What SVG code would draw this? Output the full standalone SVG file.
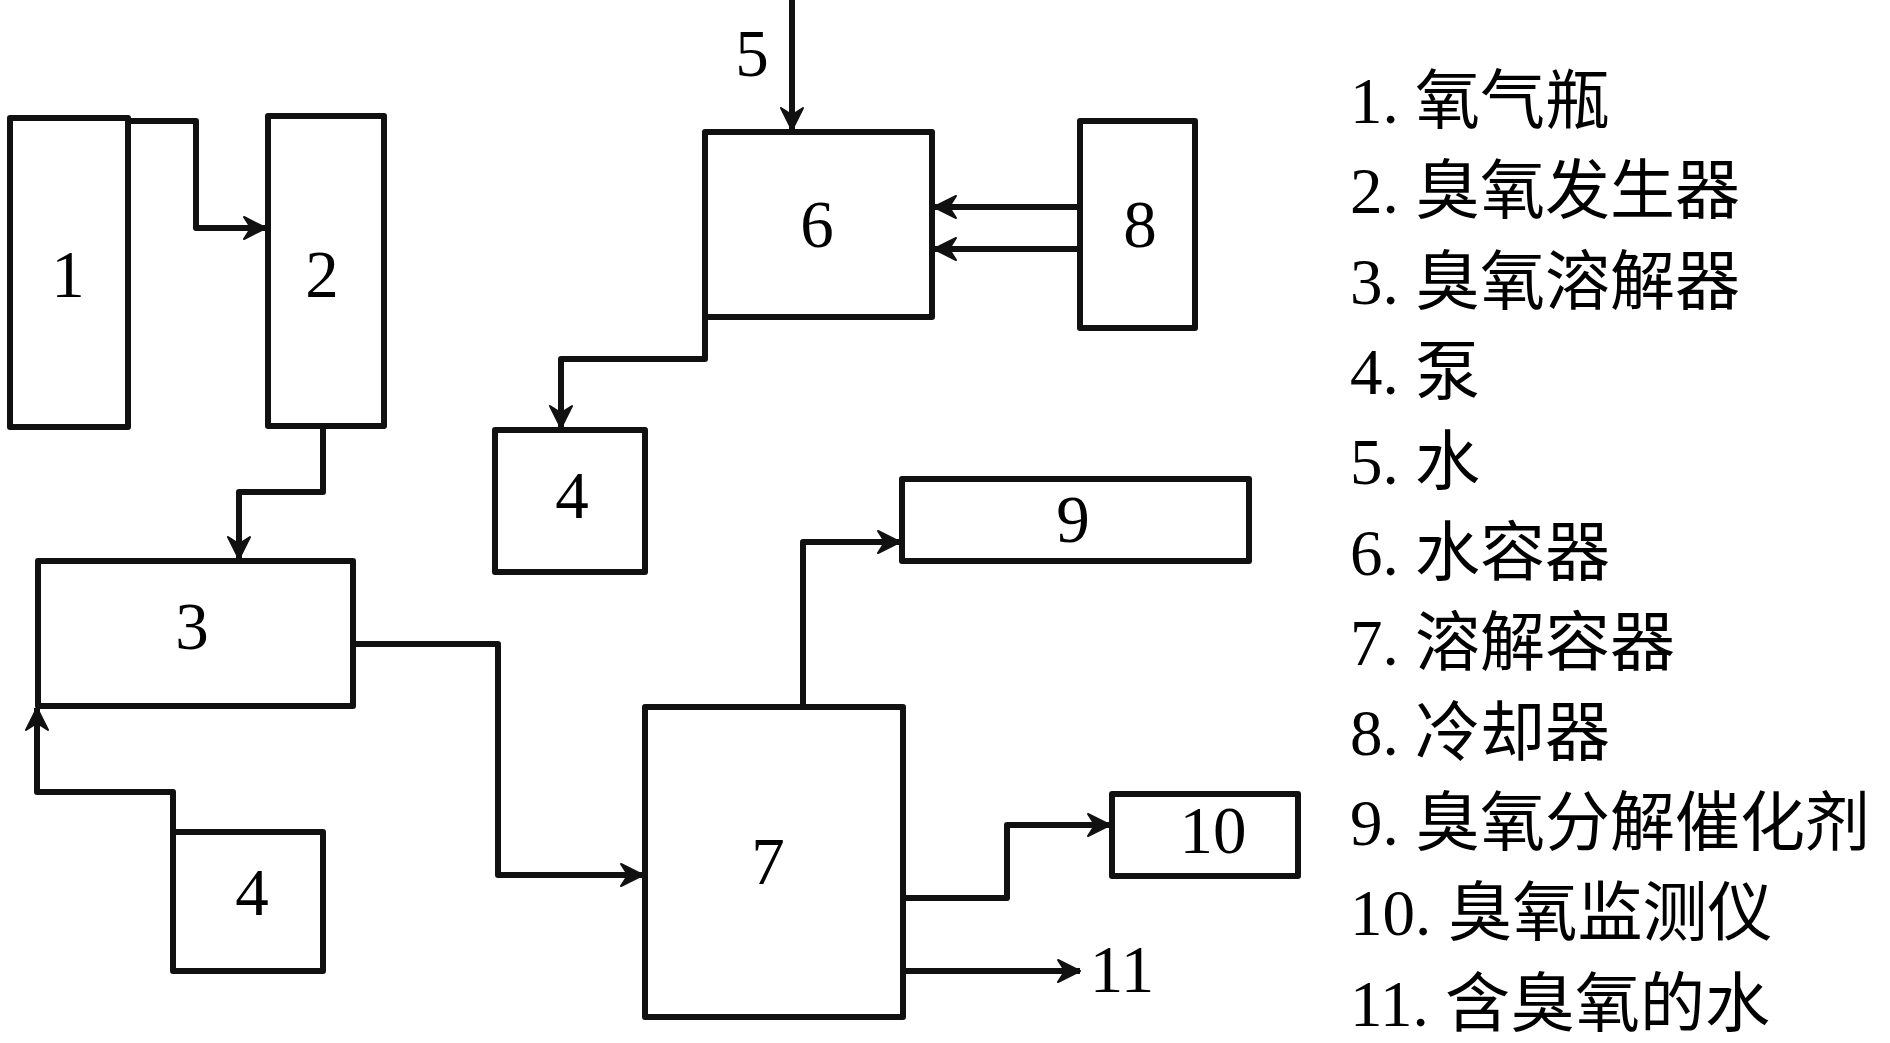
<svg xmlns="http://www.w3.org/2000/svg" width="1890" height="1043" viewBox="0 0 1890 1043">
<style>
.box{fill:#fff;stroke:#111;stroke-width:6;stroke-linejoin:round}
.wire{fill:none;stroke:#111;stroke-width:6;stroke-linejoin:round}
.num{font-family:"Liberation Serif","Times New Roman",serif;font-size:67px;fill:#000;text-anchor:middle}
.leg{font-family:"Liberation Serif","Noto Sans CJK SC",serif;font-size:65px;fill:#000}
.cjk{font-family:"Noto Sans CJK SC","Liberation Serif",sans-serif;font-size:65px}
</style>
<defs>
<marker id="arr" markerUnits="userSpaceOnUse" markerWidth="28" markerHeight="28" viewBox="0 0 28 28" refX="26" refY="14" orient="auto">
<path d="M4,3 L26,14 L4,25 L11,14 Z" fill="#111" stroke="#111" stroke-width="2" stroke-linejoin="round"/>
</marker>
</defs>
<rect width="1890" height="1043" fill="#fff"/>

<g id="connectors">
<path class="wire" d="M128,121 H196 V228 H266" marker-end="url(#arr)"/>
<path class="wire" d="M323,426 V492 H239 V559" marker-end="url(#arr)"/>
<path class="wire" d="M173,832 V792 H37 V708" marker-end="url(#arr)"/>
<path class="wire" d="M353,644 H498 V875 H643" marker-end="url(#arr)"/>
<path class="wire" d="M792,0 V130" marker-end="url(#arr)"/>
<path class="wire" d="M1080,207 H934" marker-end="url(#arr)"/>
<path class="wire" d="M1080,249 H934" marker-end="url(#arr)"/>
<path class="wire" d="M705,317 V359 H561 V428" marker-end="url(#arr)"/>
<path class="wire" d="M803,707 V542 H900" marker-end="url(#arr)"/>
<path class="wire" d="M903,898 H1007 V825 H1110" marker-end="url(#arr)"/>
<path class="wire" d="M903,971 H1080" marker-end="url(#arr)"/>
</g>

<g id="node1"><rect class="box" x="10" y="118" width="118" height="309"/><text class="num" x="68" y="297">1</text></g>
<g id="node2"><rect class="box" x="268" y="116" width="116" height="310"/><text class="num" x="322" y="297">2</text></g>
<g id="node3"><rect class="box" x="38" y="561" width="315" height="145"/><text class="num" x="192" y="649">3</text></g>
<g id="node4a"><rect class="box" x="173" y="832" width="150" height="139"/><text class="num" x="252" y="915">4</text></g>
<g id="node4b"><rect class="box" x="495" y="430" width="150" height="142"/><text class="num" x="572" y="518">4</text></g>
<g id="node5"><text class="num" x="752" y="76">5</text></g>
<g id="node6"><rect class="box" x="705" y="132" width="227" height="185"/><text class="num" x="817" y="247">6</text></g>
<g id="node7"><rect class="box" x="645" y="707" width="258" height="310"/><text class="num" x="768" y="884">7</text></g>
<g id="node8"><rect class="box" x="1080" y="121" width="115" height="207"/><text class="num" x="1140" y="247">8</text></g>
<g id="node9"><rect class="box" x="902" y="479" width="347" height="82"/><text class="num" x="1073" y="542">9</text></g>
<g id="node10"><rect class="box" x="1112" y="794" width="186" height="82"/><text class="num" x="1213" y="853">10</text></g>
<g id="node11"><text class="num" x="1122" y="992">11</text></g>

<g id="legend">
<text class="leg" x="1350" y="123">1. <tspan class="cjk">氧气瓶</tspan></text>
<text class="leg" x="1350" y="213">2. <tspan class="cjk">臭氧发生器</tspan></text>
<text class="leg" x="1350" y="304">3. <tspan class="cjk">臭氧溶解器</tspan></text>
<text class="leg" x="1350" y="394">4. <tspan class="cjk">泵</tspan></text>
<text class="leg" x="1350" y="484">5. <tspan class="cjk">水</tspan></text>
<text class="leg" x="1350" y="575">6. <tspan class="cjk">水容器</tspan></text>
<text class="leg" x="1350" y="665">7. <tspan class="cjk">溶解容器</tspan></text>
<text class="leg" x="1350" y="755">8. <tspan class="cjk">冷却器</tspan></text>
<text class="leg" x="1350" y="845">9. <tspan class="cjk">臭氧分解催化剂</tspan></text>
<text class="leg" x="1350" y="935">10. <tspan class="cjk">臭氧监测仪</tspan></text>
<text class="leg" x="1350" y="1026">11. <tspan class="cjk">含臭氧的水</tspan></text>
</g>
</svg>
